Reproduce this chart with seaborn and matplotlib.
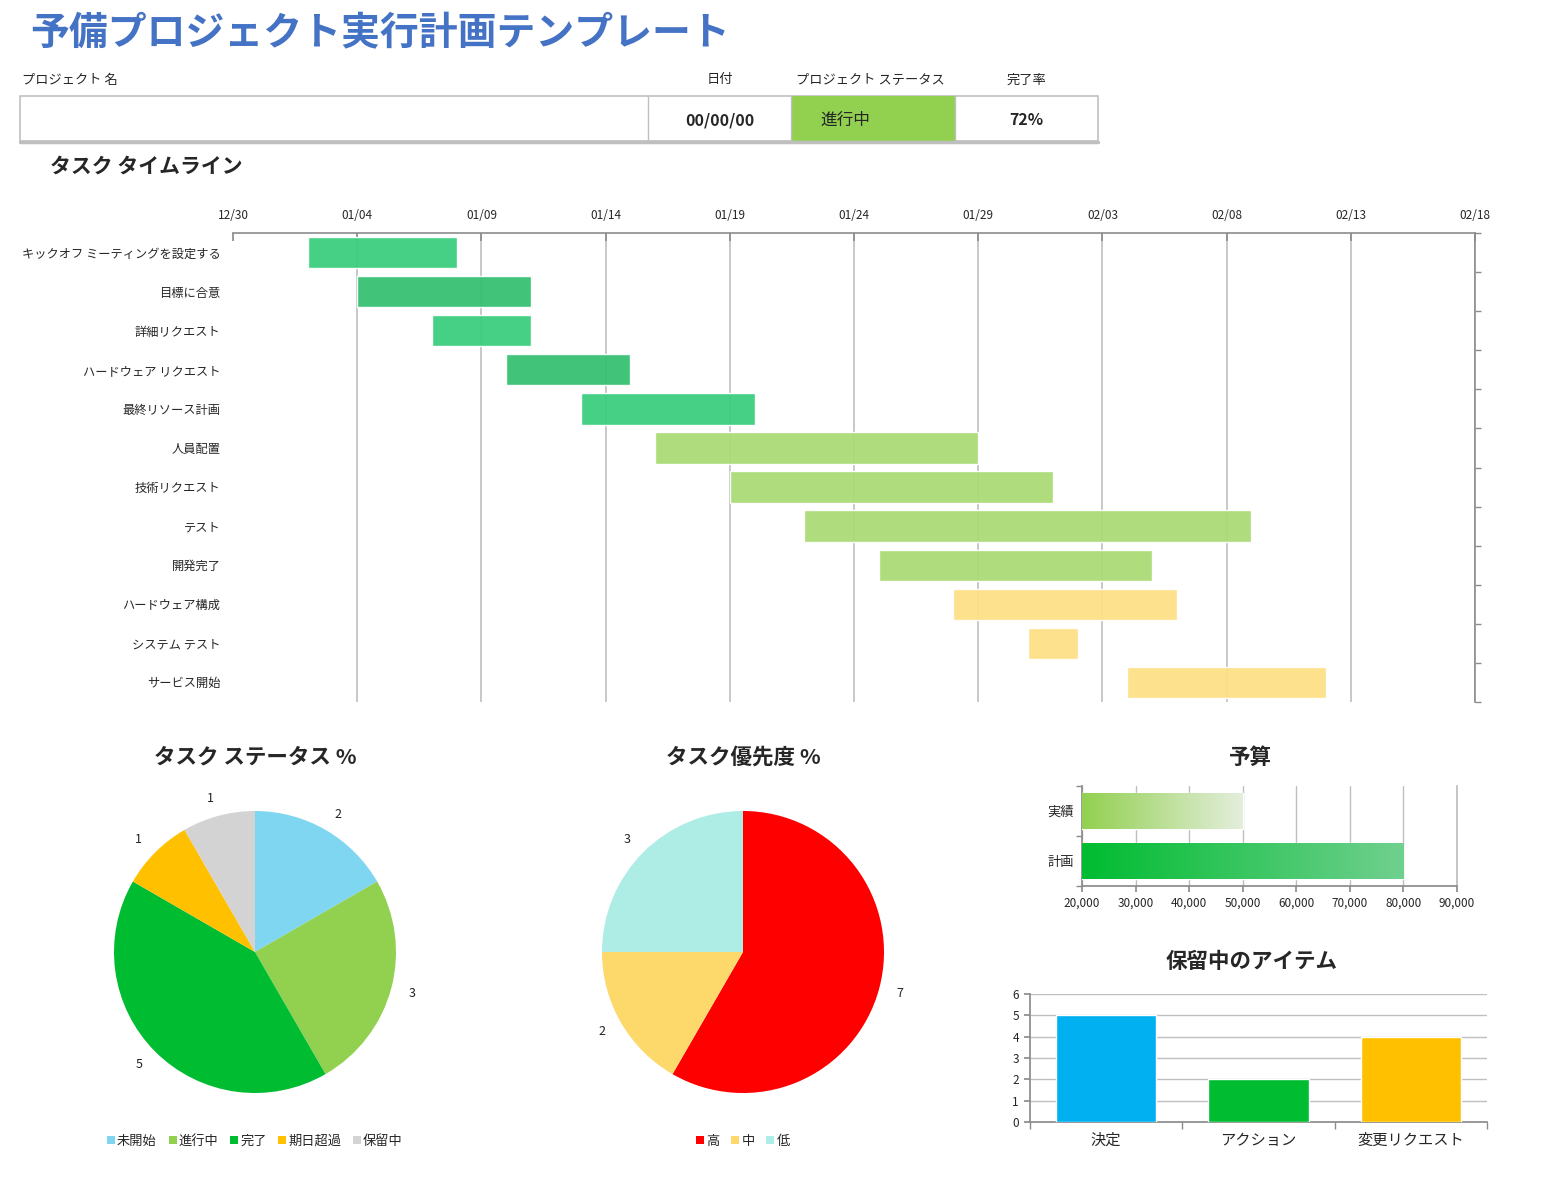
import numpy as np
import pandas as pd
import matplotlib
matplotlib.use("Agg")
import matplotlib.pyplot as plt
import matplotlib.dates as mdates
from matplotlib.colors import to_rgb
from matplotlib.patches import Rectangle
import seaborn as sns

# ---- data ----
main_title = "予備プロジェクト実行計画テンプレート"
header_labels = ["プロジェクト 名", "日付", "プロジェクト ステータス", "完了率"]
header_values = ["", "00/00/00", "進行中", "72%"]

tasks = ["キックオフ ミーティングを設定する", "目標に合意", "詳細リクエスト", "ハードウェア リクエスト",
         "最終リソース計画", "人員配置", "技術リクエスト", "テスト", "開発完了",
         "ハードウェア構成", "システム テスト", "サービス開始"]
task_start = ["2024-01-02", "2024-01-04", "2024-01-07", "2024-01-10", "2024-01-13", "2024-01-16",
              "2024-01-19", "2024-01-22", "2024-01-25", "2024-01-28", "2024-01-31", "2024-02-04"]
task_days = [6, 7, 4, 5, 7, 13, 13, 18, 11, 9, 2, 8]
timeline_ticks = ["2023-12-30", "2024-01-04", "2024-01-09", "2024-01-14", "2024-01-19", "2024-01-24",
                  "2024-01-29", "2024-02-03", "2024-02-08", "2024-02-13", "2024-02-18"]

status_labels = ["未開始", "進行中", "完了", "期日超過", "保留中"]
status_counts = [2, 3, 5, 1, 1]

priority_labels = ["高", "中", "低"]
priority_counts = [7, 2, 3]

budget_cats = ["実績", "計画"]
budget_vals = [50000, 80000]
budget_ticks = [20000, 30000, 40000, 50000, 60000, 70000, 80000, 90000]

pending_cats = ["決定", "アクション", "変更リクエスト"]
pending_vals = [5, 2, 4]

# ---- style ----
sns.set_theme(style="white")
plt.rcParams["font.family"] = ["Noto Sans CJK JP", "DejaVu Sans"]

W, H = 1566, 1183
fig = plt.figure(figsize=(W / 100, H / 100), dpi=100)
GRID = "#BFBFBF"
AXC = "#8C8C8C"


def px_axes(x0, y0, x1, y1):
    return fig.add_axes([x0 / W, 1 - y1 / H, (x1 - x0) / W, (y1 - y0) / H])


def fx(x):
    return x / W


def fy(y):
    return 1 - y / H


# background layer for the header block
bg = fig.add_axes([0, 0, 1, 1])
bg.set_xlim(0, W)
bg.set_ylim(H, 0)
bg.axis("off")
bg.add_patch(Rectangle((20, 96), 1078, 45, fill=False, ec="#C0C0C0", lw=1.2))
bg.add_patch(Rectangle((791, 96), 164, 45, fc="#92D050", ec="none"))
for xv in [648, 791, 955]:
    bg.plot([xv, xv], [96, 141], color="#C0C0C0", lw=1)
bg.plot([20, 1098], [141.5, 141.5], color="#BFBFBF", lw=2.5)

fig.text(fx(30), fy(34), main_title, color="#4472C4", fontsize=28, fontweight="bold", va="center")
for (lx, ha), lab in zip([(22, "left"), (720, "center"), (870, "center"), (1026, "center")], header_labels):
    fig.text(fx(lx), fy(80), lab, fontsize=9.5, ha=ha, va="center")
fig.text(fx(720), fy(120), header_values[1], fontsize=11.5, fontweight="bold", ha="center", va="center")
fig.text(fx(820), fy(120), header_values[2], fontsize=12, ha="left", va="center")
fig.text(fx(1026), fy(120), header_values[3], fontsize=11.5, fontweight="bold", ha="center", va="center")

# ---- gantt ----
fig.text(fx(50), fy(166), "タスク タイムライン", fontsize=15, fontweight="bold", va="center")
ax = px_axes(233, 233, 1475, 702)
starts = mdates.date2num(pd.to_datetime(task_start))
bar_colors = ["#3CCE7F", "#37C073", "#3CCE7F", "#37C073", "#3CCE7F",
              "#ABDA76", "#ABDA76", "#ABDA76", "#ABDA76",
              "#FEE087", "#FEE087", "#FEE087"]
ax.barh(np.arange(len(tasks)), task_days, left=starts, height=0.8, color=bar_colors,
        alpha=0.95, zorder=3)
ticks = mdates.date2num(pd.to_datetime(timeline_ticks))
ax.set_xlim(ticks[0], ticks[-1])
ax.set_xticks(ticks)
ax.xaxis.set_major_formatter(mdates.DateFormatter("%m/%d"))
ax.xaxis.tick_top()
ax.tick_params(axis="x", direction="in", length=6, color=AXC, labelsize=8.5, pad=8,
               top=True, bottom=False, labeltop=True, labelbottom=False)
ax.set_yticks(np.arange(len(tasks)))
ax.set_yticklabels(tasks)
ax.set_ylim(len(tasks) - 0.5, -0.5)
ax.set_yticks(np.arange(-0.5, len(tasks), 1), minor=True)
ax.tick_params(axis="y", which="major", left=False, right=False, length=0, labelsize=8.8, pad=9)
ax.tick_params(axis="y", which="minor", left=False, right=True, direction="out", length=4,
               color=AXC, width=1)
ax.grid(axis="x", color=GRID, lw=1.2, zorder=1)
ax.grid(axis="y", visible=False)
ax.set_axisbelow(True)
for s in ["left", "bottom"]:
    ax.spines[s].set_visible(False)
for s in ["top", "right"]:
    ax.spines[s].set_color(AXC)
    ax.spines[s].set_linewidth(1.2)
ax.get_xgridlines()[0].set_visible(False)

# ---- pies ----
status_colors = ["#7FD6F0", "#92D050", "#00BC31", "#FFC000", "#D3D3D3"]
priority_colors = ["#FF0000", "#FCD96A", "#ADEDE5"]


def draw_pie(cx, title, values, labels, colors):
    fig.text(fx(cx), fy(757), title, fontsize=15.5, fontweight="bold", ha="center", va="center")
    pa = px_axes(cx - 141, 811, cx + 141, 1093)
    wedges, texts = pa.pie(values, labels=[str(v) for v in values], colors=colors, startangle=90,
                           counterclock=False, labeldistance=1.13,
                           wedgeprops=dict(linewidth=0, edgecolor="none"),
                           textprops=dict(fontsize=9, color="#222222"))
    pa.set_xlim(-1, 1)
    pa.set_ylim(-1, 1)
    pa.set_aspect("equal")
    pa.legend(wedges, labels, loc="center", bbox_to_anchor=(fx(cx), fy(1141)),
              bbox_transform=fig.transFigure, ncol=len(labels), frameon=False,
              handlelength=0.6, handleheight=0.6, handletextpad=0.15,
              columnspacing=0.9, fontsize=9.5)
    return pa


draw_pie(255, "タスク ステータス %", status_counts, status_labels, status_colors)
draw_pie(743, "タスク優先度 %", priority_counts, priority_labels, priority_colors)

# ---- budget ----
fig.text(fx(1250), fy(757), "予算", fontsize=15.5, fontweight="bold", ha="center", va="center")
axb = px_axes(1082, 786, 1457, 886)
budget_df = pd.DataFrame({"cat": budget_cats, "val": budget_vals})
sns.barplot(data=budget_df, x="val", y="cat", hue="cat", palette=["#92D050", "#00BC31"],
            orient="h", width=0.72, saturation=1, legend=False, ax=axb, zorder=3)
grads = [("#92D050", "#E4EEDC"), ("#00BC31", "#70D08F")]
bmin, bmax = budget_ticks[0], budget_ticks[-1]
for patch, (c0, c1) in zip(axb.patches, grads):
    x0, y0 = patch.get_x(), patch.get_y()
    w, h = patch.get_width(), patch.get_height()
    t = np.linspace(0, 1, 256)[:, None]
    rgb = (1 - t) * np.array(to_rgb(c0)) + t * np.array(to_rgb(c1))
    img = axb.imshow(rgb[None, :, :], extent=(max(x0, bmin), x0 + w, y0 + h, y0),
                     aspect="auto", zorder=3, interpolation="bilinear")
    img.set_clip_path(patch)
    patch.set_facecolor("none")
axb.set_xlim(bmin, bmax)
axb.set_ylim(1.5, -0.5)
axb.set_xticks(budget_ticks)
axb.set_xticklabels([f"{v:,}" for v in budget_ticks])
axb.set_xlabel("")
axb.set_ylabel("")
axb.grid(axis="x", color=GRID, lw=1, zorder=0)
axb.set_axisbelow(True)
axb.set_yticks([-0.5, 0.5, 1.5], minor=True)
axb.tick_params(axis="y", which="major", left=False, length=0, labelsize=9.5, pad=6)
axb.tick_params(axis="y", which="minor", left=True, direction="out", length=4, color=AXC)
axb.tick_params(axis="x", bottom=True, direction="out", length=4, color=AXC, labelsize=8.5)
axb.spines["top"].set_visible(False)
axb.spines["right"].set_color(GRID)
for s in ["left", "bottom"]:
    axb.spines[s].set_color(AXC)

# ---- pending items ----
fig.text(fx(1252), fy(961), "保留中のアイテム", fontsize=15.5, fontweight="bold", ha="center", va="center")
axp = px_axes(1030, 994, 1487, 1122)
pend_df = pd.DataFrame({"cat": pending_cats, "val": pending_vals})
sns.barplot(data=pend_df, x="cat", y="val", hue="cat", palette=["#00B0F0", "#00BC31", "#FFC000"],
            width=0.66, saturation=1, legend=False, ax=axp, zorder=3)
axp.set_ylim(0, 6)
axp.set_yticks(range(0, 7))
axp.set_xlim(-0.5, 2.5)
axp.set_xlabel("")
axp.set_ylabel("")
axp.grid(axis="y", color=GRID, lw=1, zorder=0)
axp.set_axisbelow(True)
axp.set_xticks([-0.5, 0.5, 1.5, 2.5], minor=True)
axp.tick_params(axis="x", which="major", bottom=False, length=0, labelsize=11, pad=7)
axp.tick_params(axis="x", which="minor", bottom=True, direction="out", length=5, color=AXC)
axp.tick_params(axis="y", left=True, direction="out", length=4, color=AXC, labelsize=8.5, pad=4)
for s in ["top", "right"]:
    axp.spines[s].set_visible(False)
for s in ["left", "bottom"]:
    axp.spines[s].set_color(AXC)

fig.savefig("out.png", dpi=100)
